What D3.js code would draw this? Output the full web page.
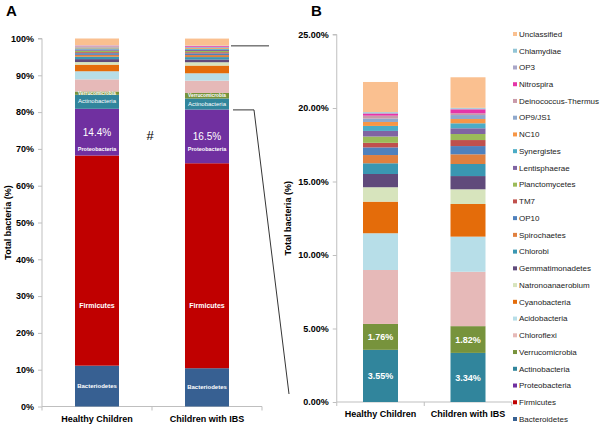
<!DOCTYPE html>
<html><head><meta charset="utf-8">
<script src="https://cdn.jsdelivr.net/npm/d3@7"></script>
<style>
body{margin:0;background:#fff;}
svg{font-family:"Liberation Sans",Arial,sans-serif;display:block;}
</style></head>
<body>
<svg id="c" width="600" height="425"></svg>
<script>
const groups = ["Healthy Children","Children with IBS"];
const phyla = ["Bacteroidetes","Firmicutes","Proteobacteria","Actinobacteria","Verrucomicrobia","Chloroflexi","Acidobacteria","Cyanobacteria","Natronoanaerobium","Gemmatimonadetes","Chlorobi","Spirochaetes","OP10","TM7","Planctomycetes","Lentisphaerae","Synergistes","NC10","OP9/JS1","Deinococcus-Thermus","Nitrospira","OP3","Chlamydiae","Unclassified"];
const colors = ["#376092","#C00000","#7030A0","#31859C","#77933C","#E6B9B8","#B7DEE8","#E46C0A","#D7E4BD","#604A7B","#3A97B2","#E0803F","#4F81BD","#C0504D","#9BBB59","#8064A2","#4BACC6","#F79646","#8FA8CC","#C99AAA","#E535A8","#A9A6C8","#92C5D6","#FAC090"];
// Panel A: % of total bacteria
const healthyA = [11.1,57.1,12.7,3.8,0.9,3.3,2.2,1.8,0.7,0.8,0.65,0.5,0.46,0.28,0.38,0.34,0.3,0.24,0.2,0.18,0.12,0.05,0.05,1.85];
const ibsA     = [10.4,55.7,14.6,3.0,1.5,3.35,2.0,2.1,0.9,0.75,0.65,0.55,0.45,0.33,0.33,0.32,0.28,0.23,0.22,0.1,0.22,0.05,0.05,1.9];
// Panel B: minor phyla, % of total bacteria
const healthyB = [0,0,0,3.55,1.76,3.67,2.5,2.15,0.98,0.9,0.73,0.56,0.52,0.31,0.43,0.38,0.34,0.27,0.23,0.2,0.14,0.05,0.05,2.05];
const ibsB     = [0,0,0,3.34,1.82,3.7,2.39,2.22,1.0,0.9,0.82,0.66,0.56,0.41,0.41,0.39,0.34,0.29,0.27,0.12,0.27,0.05,0.05,2.08];
const ticksA = [0,10,20,30,40,50,60,70,80,90,100];
const ticksB = [0,5,10,15,20,25];
const protLabels = ["14.4%","16.5%"];
const actLabels = ["3.55%","3.34%"];
const verLabels = ["1.76%","1.82%"];

const svg = d3.select("#c");
const axisCol = "#BFBFBF";

function stackRows(vals){
  const rows = [];
  groups.forEach((g,gi)=>{
    let acc=0;
    vals[gi].forEach((v,i)=>{ rows.push({g, i, y0:acc, y1:acc+v}); acc+=v; });
  });
  return rows;
}

function drawAxes(x, y, ticks, fmt, x0, x1){
  const ga = svg.append("g").attr("transform",`translate(${x0},0)`)
    .call(d3.axisLeft(y).tickValues(ticks).tickFormat(fmt).tickSize(4).tickPadding(4));
  ga.select(".domain").attr("stroke",axisCol).attr("d",`M-4,${y(ticks[ticks.length-1])}H0V${y(0)}`);
  ga.selectAll(".tick line").attr("stroke",axisCol);
  ga.selectAll(".tick text").attr("font-size",9).attr("font-weight","bold").attr("fill","#000").attr("font-family","Liberation Sans, Arial, sans-serif");
  const gx = svg.append("g").attr("transform",`translate(0,${y(0)})`);
  gx.append("line").attr("x1",x0).attr("x2",x1).attr("stroke",axisCol);
  const step = x.step();
  [0,1,2].forEach(k=>{
    gx.append("line").attr("x1",x0+k*step).attr("x2",x0+k*step).attr("y1",0).attr("y2",4).attr("stroke",axisCol);
  });
  groups.forEach(g=>{
    gx.append("text").attr("x",x(g)+x.bandwidth()/2).attr("y",15).attr("text-anchor","middle")
      .attr("font-size",9).attr("font-weight","bold").text(g);
  });
}

// ---------- Panel A ----------
const xA = d3.scaleBand().domain(groups).range([42,262]).paddingInner(0.6).paddingOuter(0.3);
const yA = d3.scaleLinear().domain([0,100]).range([406.5,38.5]);
drawAxes(xA,yA,ticksA,d=>d+"%",42,262);
const rowsA = stackRows([healthyA,ibsA]);
svg.append("g").selectAll("rect").data(rowsA.filter(r=>r.y1>r.y0)).join("rect")
  .attr("x",d=>xA(d.g)).attr("width",xA.bandwidth())
  .attr("y",d=>yA(d.y1)).attr("height",d=>yA(d.y0)-yA(d.y1))
  .attr("fill",d=>colors[d.i]);

function segLabel(xs, ys, rows, idx, valFn, txt, size, weight){
  rows.filter(r=>r.i===idx).forEach((r,k)=>{
    svg.append("text").attr("x",xs(r.g)+xs.bandwidth()/2)
      .attr("y",ys(valFn(r))).attr("dy","0.35em")
      .attr("text-anchor","middle").attr("fill","#fff").attr("font-size",size)
      .attr("font-weight",weight).text(typeof txt==="function"?txt(k):txt);
  });
}
const mid = r=>(r.y0+r.y1)/2;
segLabel(xA,yA,rowsA,0,mid,"Bacteriodetes",6,"bold");
segLabel(xA,yA,rowsA,1,()=>27.5,"Firmicutes",7,"bold");
segLabel(xA,yA,rowsA,2,mid,k=>protLabels[k],10,"normal");
segLabel(xA,yA,rowsA,2,()=>69.9,"Proteobacteria",5.5,"bold");
segLabel(xA,yA,rowsA,3,r=>r.y0+(r.y1-r.y0)*0.55,"Actinobacteria",6,"normal");
segLabel(xA,yA,rowsA,4,mid,"Verrucomicrobia",4.8,"bold");

svg.append("text").attr("x",150).attr("y",135).attr("dy","0.35em").attr("text-anchor","middle")
  .attr("font-size",13).text("#");

svg.append("text").attr("transform",`translate(8,${yA(50)}) rotate(-90)`).attr("text-anchor","middle")
  .attr("dy","0.35em").attr("font-size",9).attr("font-weight","bold").text("Total bacteria (%)");
svg.append("text").attr("x",6).attr("y",16).attr("font-size",15).attr("font-weight","bold").text("A");

// connector lines
const ibsRight = xA(groups[1])+xA.bandwidth();
svg.append("line").attr("x1",ibsRight+2).attr("x2",269).attr("y1",yA(98)).attr("y2",yA(98)).attr("stroke","#000").attr("stroke-width",0.8);
svg.append("path").attr("d",`M${ibsRight+4},${yA(80.6)}H254L289,394`).attr("fill","none").attr("stroke","#000").attr("stroke-width",0.8);

// ---------- Panel B ----------
const xB = d3.scaleBand().domain(groups).range([336.75,511.75]).paddingInner(0.6).paddingOuter(0.3);
const yB = d3.scaleLinear().domain([0,25]).range([402,34.5]);
drawAxes(xB,yB,ticksB,d=>d.toFixed(2)+"%",336.75,511.75);
const rowsB = stackRows([healthyB,ibsB]);
svg.append("g").selectAll("rect").data(rowsB.filter(r=>r.y1>r.y0)).join("rect")
  .attr("x",d=>xB(d.g)).attr("width",xB.bandwidth())
  .attr("y",d=>yB(d.y1)).attr("height",d=>yB(d.y0)-yB(d.y1))
  .attr("fill",d=>colors[d.i]);
segLabel(xB,yB,rowsB,3,mid,k=>actLabels[k],9,"bold");
segLabel(xB,yB,rowsB,4,mid,k=>verLabels[k],9,"bold");

svg.append("text").attr("transform",`translate(288,${yB(12.5)}) rotate(-90)`).attr("text-anchor","middle")
  .attr("dy","0.35em").attr("font-size",9).attr("font-weight","bold").text("Total bacteria (%)");
svg.append("text").attr("x",311).attr("y",16).attr("font-size",15).attr("font-weight","bold").text("B");

// legend
const legendOrder = phyla.slice().reverse();
const ly = d3.scalePoint().domain(legendOrder).range([34,419]);
const lg = svg.append("g");
legendOrder.forEach(p=>{
  const i = phyla.indexOf(p);
  lg.append("rect").attr("x",513).attr("y",ly(p)-2).attr("width",4).attr("height",4).attr("fill",colors[i]);
  lg.append("text").attr("x",519).attr("y",ly(p)).attr("dy","0.35em").attr("font-size",8).attr("fill","#222").text(p);
});
</script>
</body></html>
